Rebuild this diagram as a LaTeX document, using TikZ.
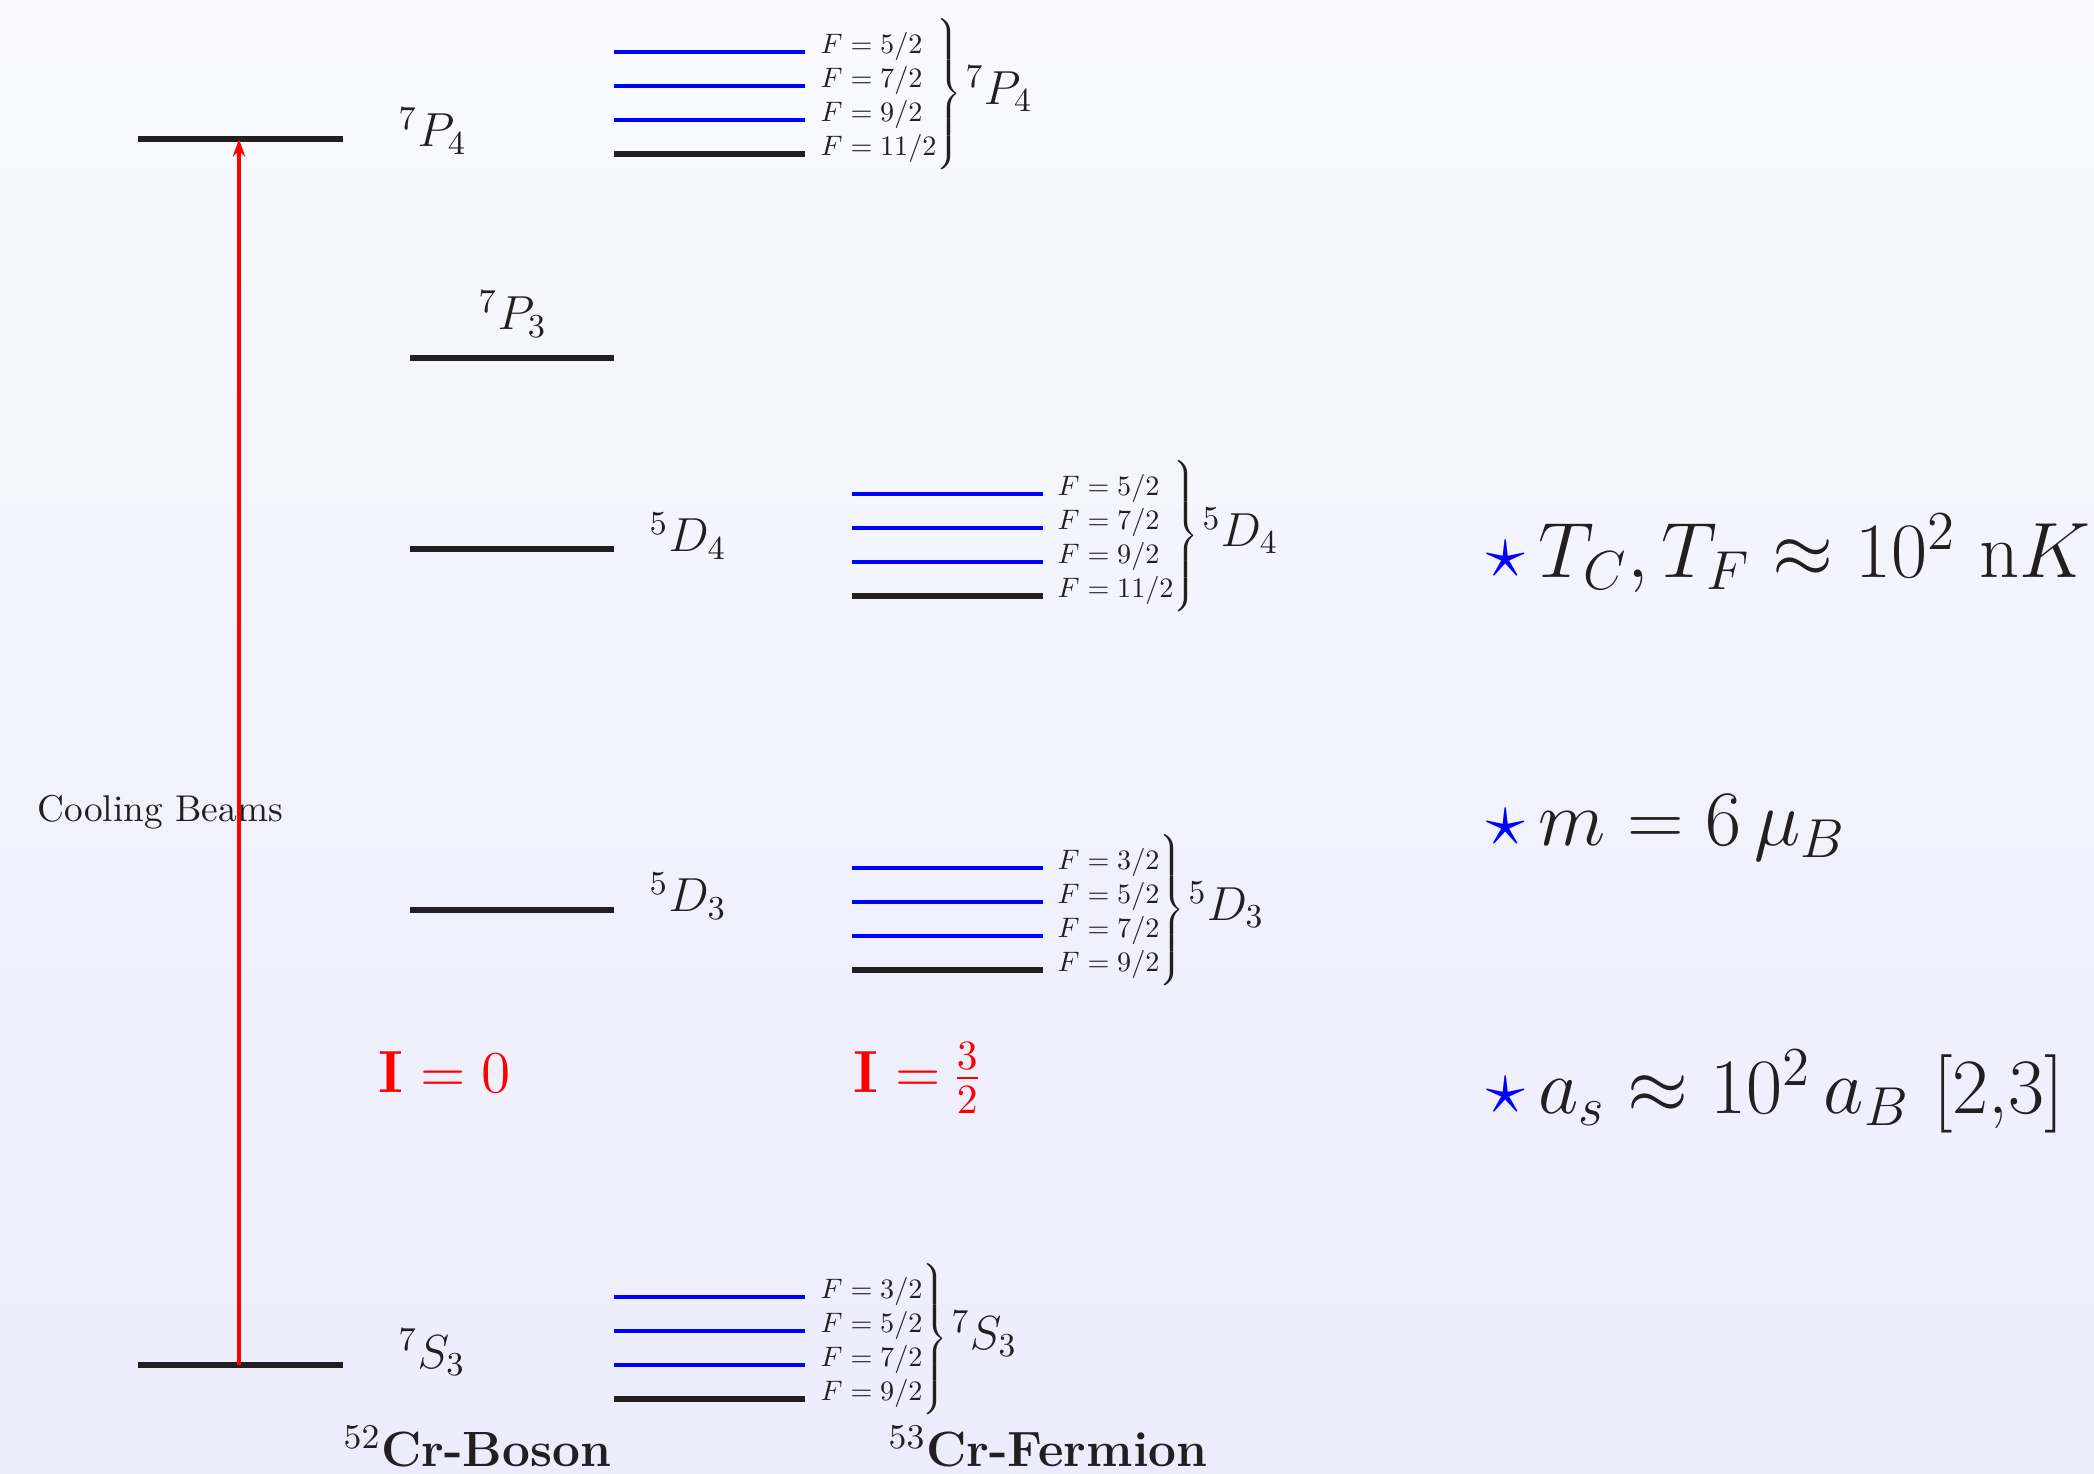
\RequirePackage{fix-cm}
\documentclass[tikz,border=0pt]{standalone}
\usepackage{graphicx}
\usetikzlibrary{arrows.meta}
\definecolor{ink}{RGB}{35,31,32}
\definecolor{bgtop}{RGB}{249,249,255}
\definecolor{bgbot}{RGB}{236,236,252}
\newcommand{\lblfont}{\fontsize{13.6}{16}\selectfont}
\newcommand{\hfsgroup}[5]{\scalebox{0.8}{\normalsize$\begin{array}{@{}l@{}}F=#1\\F=#2\\F=#3\\F=#4\end{array}$\fontsize{15}{18}\selectfont$\left.\vrule height 28pt depth 20.5pt width 0pt\right\}$\fontsize{17}{20}\selectfont\hspace{1.5pt}$#5$}}
\begin{document}
\begin{tikzpicture}[x=0.01cm,y=-0.01cm,
  lvl/.style={line width=1.5pt, draw=ink},
  sublvl/.style={line width=1pt, draw=blue},
  lab/.style={inner sep=0pt, anchor=base west, text=ink, font=\lblfont},
  grp/.style={inner sep=0pt, anchor=west, text=ink},
  big/.style={inner sep=0pt, anchor=base west, text=ink, font=\fontsize{22.3}{27}\selectfont},
]
\shade[top color=bgtop, bottom color=bgbot] (0,0) rectangle (2094,1474);
\useasboundingbox (0,0) rectangle (2094,1474);
\renewcommand{\arraystretch}{1.0075}
\delimitershortfall=-4pt
\nulldelimiterspace=0pt

% ---- boson levels
\coordinate (bP4l) at (138,139);  \coordinate (bP4r) at (343,139);
\coordinate (bS3l) at (138,1365); \coordinate (bS3r) at (343,1365);
\coordinate (bP3l) at (410,358);  \coordinate (bP3r) at (614,358);
\coordinate (bD4l) at (410,549);  \coordinate (bD4r) at (614,549);
\coordinate (bD3l) at (410,910);  \coordinate (bD3r) at (614,910);
\draw[lvl] (bP4l) -- (bP4r);
\draw[lvl] (bS3l) -- (bS3r);
\draw[lvl] (bP3l) -- (bP3r);
\draw[lvl] (bD4l) -- (bD4r);
\draw[lvl] (bD3l) -- (bD3r);

\node[lab] (lP4) at (398,147) {$^7P_4$};
\node[lab] (lP3) at (478,330) {$^7P_3$};
\node[lab] (lD4) at (649,552) {$^5D_4$};
\node[lab] (lD3) at (649,912) {$^5D_3$};
\node[lab] (lS3) at (398,1368) {$^7S_3$};

% ---- fermion hyperfine levels
% 7P4
\foreach \y/\s in {52/sublvl,86/sublvl,120/sublvl,154/lvl}{
  \coordinate (a\y) at (614,\y); \coordinate (b\y) at (805,\y);
  \draw[\s] (a\y) -- (b\y);}
\node[grp] (gP4) at (820,94) {\hfsgroup{5/2}{7/2}{9/2}{11/2}{^7P_4}};
% 5D4
\foreach \y/\s in {494/sublvl,528/sublvl,562/sublvl,596/lvl}{
  \coordinate (a\y) at (852,\y); \coordinate (b\y) at (1043,\y);
  \draw[\s] (a\y) -- (b\y);}
\node[grp] (gD4) at (1057,536) {\hfsgroup{5/2}{7/2}{9/2}{11/2}{^5D_4}};
% 5D3
\foreach \y/\s in {868/sublvl,902/sublvl,936/sublvl,970/lvl}{
  \coordinate (a\y) at (852,\y); \coordinate (b\y) at (1043,\y);
  \draw[\s] (a\y) -- (b\y);}
\node[grp] (gD3) at (1057,910) {\hfsgroup{3/2}{5/2}{7/2}{9/2}{^5D_3}};
% 7S3
\foreach \y/\s in {1297/sublvl,1331/sublvl,1365/sublvl,1399/lvl}{
  \coordinate (a\y) at (614,\y); \coordinate (b\y) at (805,\y);
  \draw[\s] (a\y) -- (b\y);}
\node[grp] (gS3) at (820,1339) {\hfsgroup{3/2}{5/2}{7/2}{9/2}{^7S_3}};

% ---- texts
\node[inner sep=0pt, anchor=base west, text=ink, font=\fontsize{10.6}{12}\selectfont] (cool) at (37,822) {Cooling Beams};
\node[inner sep=0pt, anchor=base west, text=red, font=\fontsize{16.9}{20}\selectfont] (i0) at (378,1093) {$\mathbf{I}=0$};
\node[inner sep=0pt, anchor=base west, text=red, font=\fontsize{16.9}{20}\selectfont] (i32) at (853,1093) {$\mathbf{I}=\frac{3}{2}$};
\node[inner sep=0pt, anchor=base west, text=ink, font=\fontsize{14.1}{17}\selectfont\bfseries] (bos) at (343,1466) {$^{52}$Cr-Boson};
\node[inner sep=0pt, anchor=base west, text=ink, font=\fontsize{14.1}{17}\selectfont\bfseries] (fer) at (888,1466) {$^{53}$Cr-Fermion};

\node[big] (tc) at (1486,578) {{\color{blue}$\star$}\,$T_C, T_F \approx 10^2\ \mathrm{n}K$};
\node[big] (mm) at (1486,846) {{\color{blue}$\star$}\,$m = 6\,\mu_B$};
\node[big] (as) at (1486,1114) {{\color{blue}$\star$}\,$a_s \approx 10^2\,a_B$ [2,3]};

% ---- cooling transition
\coordinate (arrS) at (239,1365);
\coordinate (arrP) at (239,139);
\draw[red, line width=1pt, -{Stealth[length=5pt,width=3.5pt]}] (arrS) -- (arrP);
\end{tikzpicture}
\end{document}
